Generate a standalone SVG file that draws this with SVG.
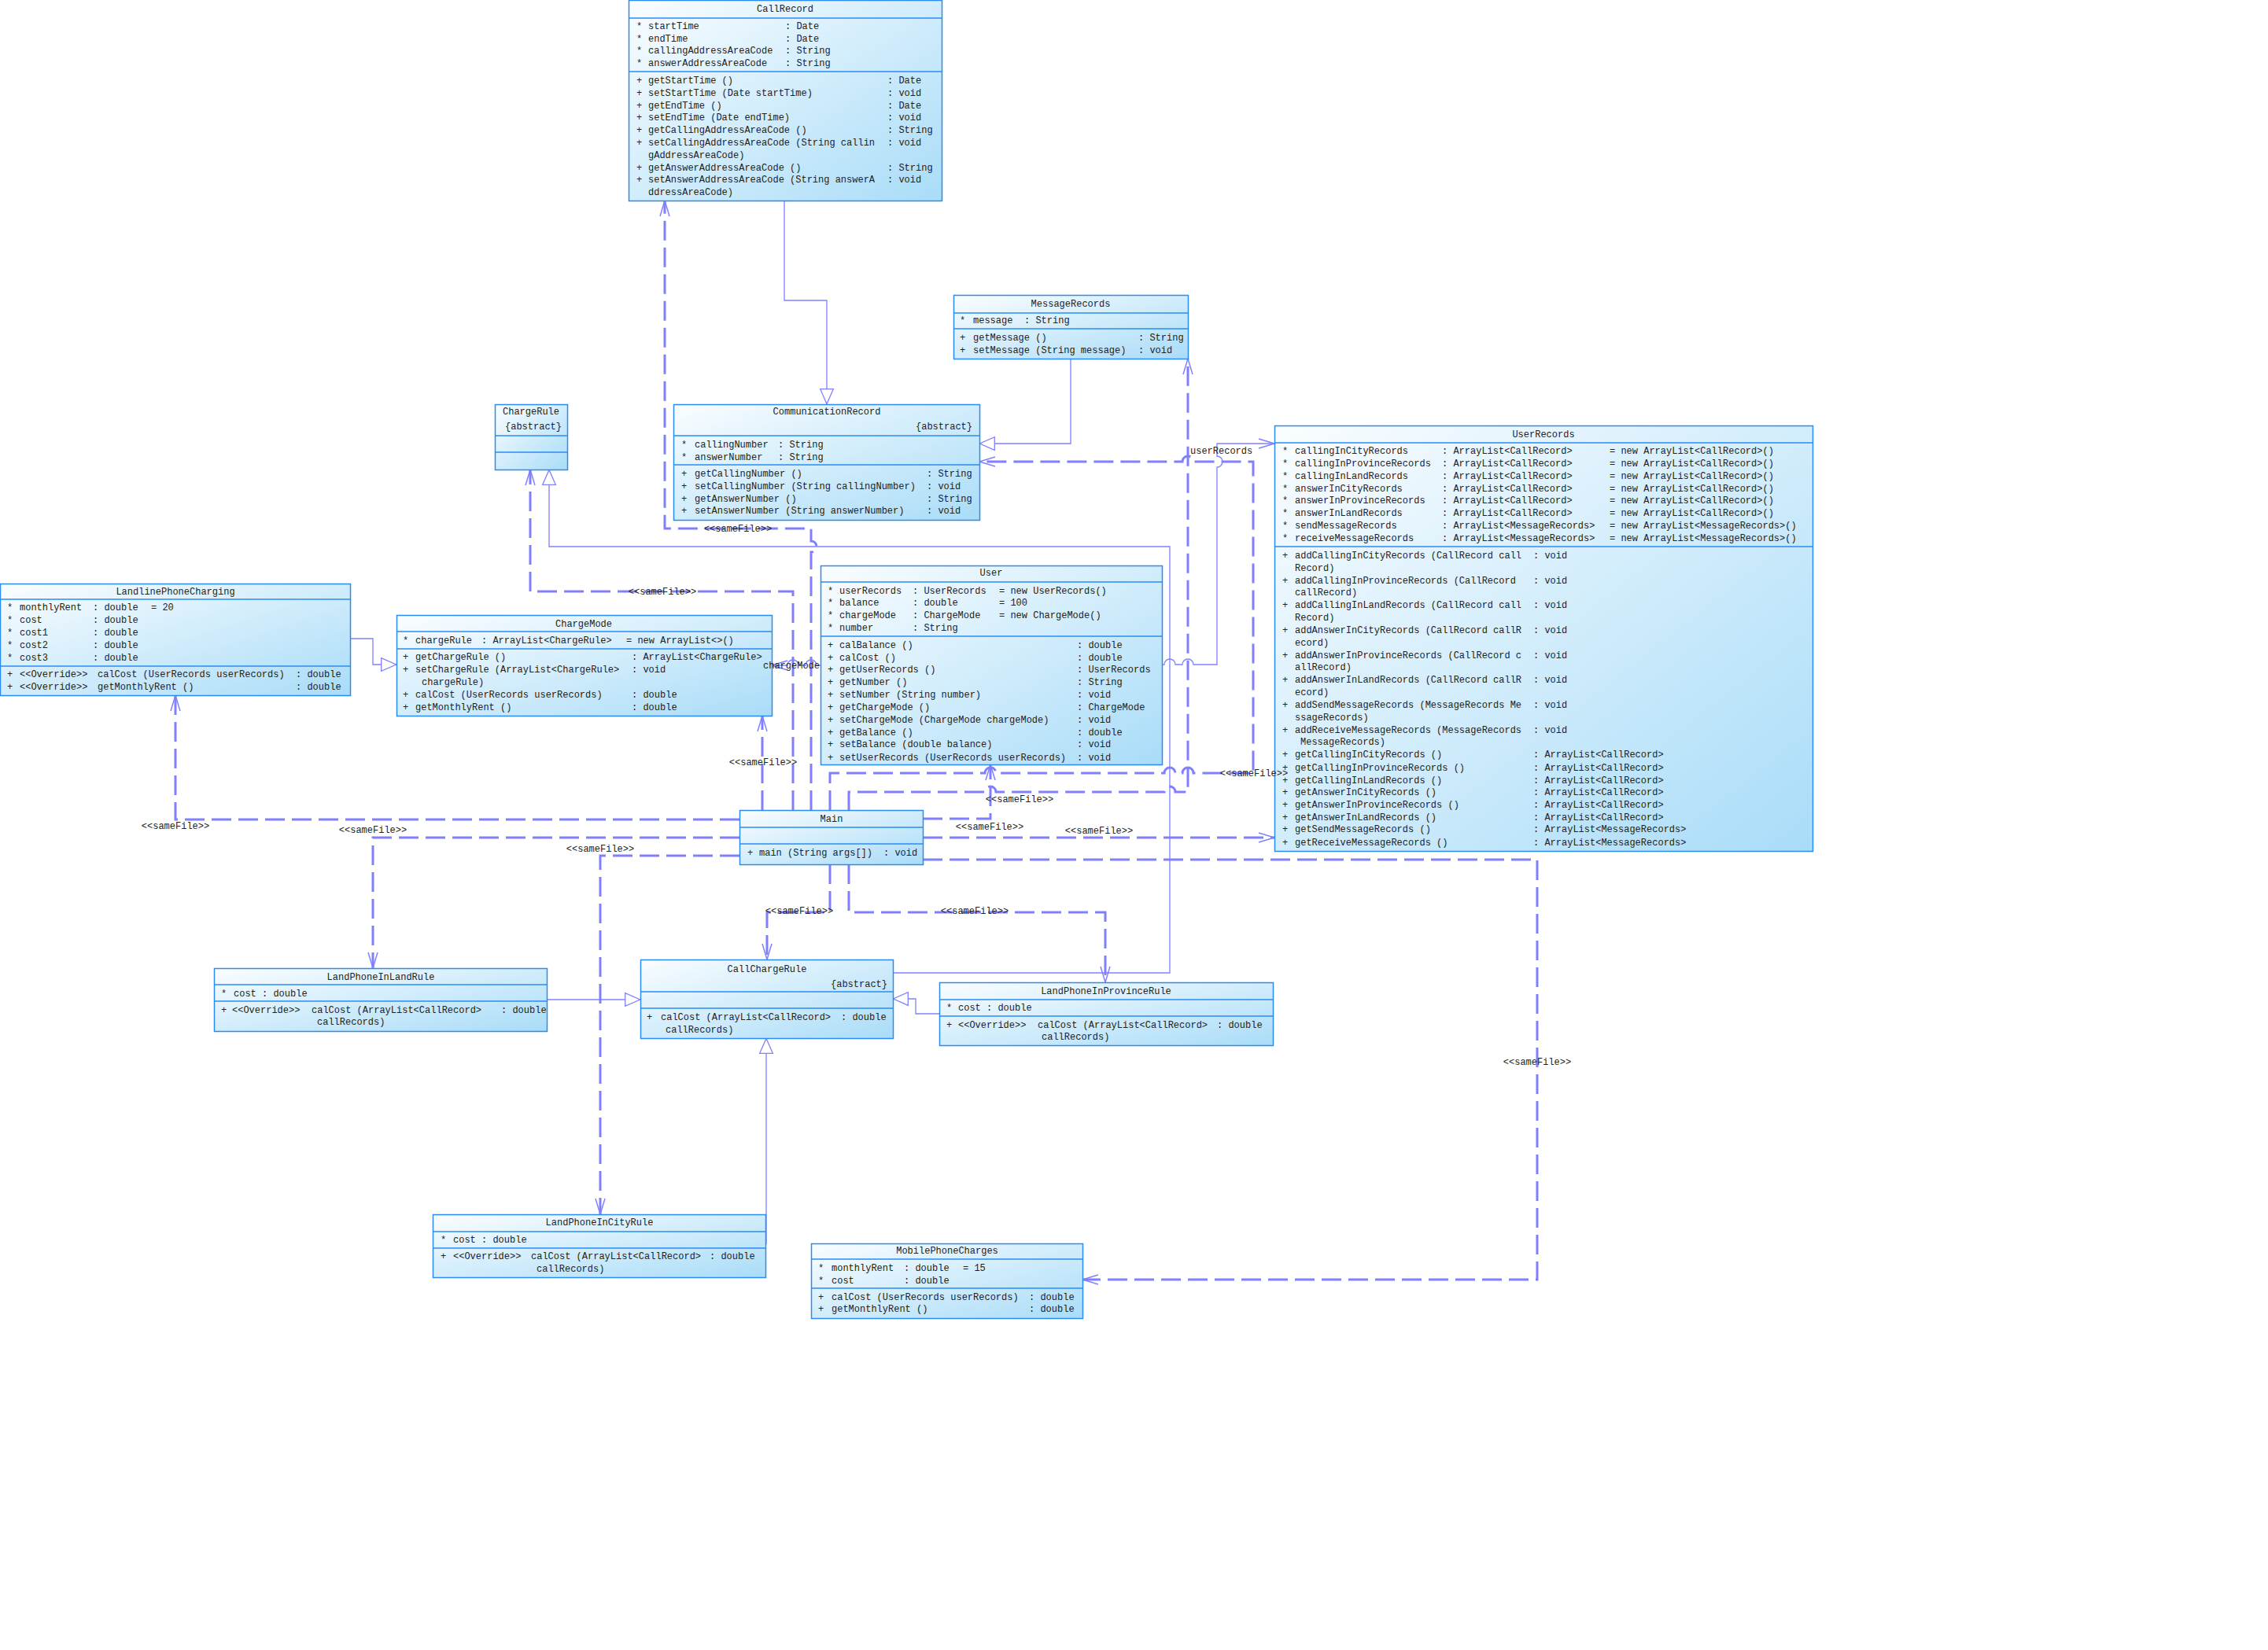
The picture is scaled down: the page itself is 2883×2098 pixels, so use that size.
<svg xmlns="http://www.w3.org/2000/svg" width="2883" height="2098" viewBox="0 0 2883 2098">
<defs>
<linearGradient id="bg" x1="0" y1="0" x2="1" y2="1">
<stop offset="0" stop-color="#fafdff"/>
<stop offset="1" stop-color="#a9dcf8"/>
</linearGradient>
<marker id="open" markerUnits="userSpaceOnUse" viewBox="0 0 21 14" refX="20" refY="7" markerWidth="21" markerHeight="14" orient="auto" overflow="visible">
<path d="M0,1 L20,7 L0,13" fill="none" stroke="#8080ff" stroke-width="1.5"/>
</marker>
<marker id="tri" markerUnits="userSpaceOnUse" viewBox="0 0 20 18" refX="20" refY="9" markerWidth="20" markerHeight="18" orient="auto" overflow="visible">
<path d="M0.7,0.7 L19.6,9 L0.7,17.3 Z" fill="#ffffff" stroke="#8080ff" stroke-width="1.3"/>
</marker>
</defs>
<style>
.box rect{fill:url(#bg);stroke:#2a8cf0;stroke-width:1.5}
.box line{stroke:#2a8cf0;stroke-width:1.5}
text{font-family:"Liberation Mono","DejaVu Sans Mono",monospace;font-size:12px;fill:#222}
.c{text-anchor:middle}
.e{text-anchor:end}
.dep{fill:none;stroke:#8080ff;stroke-width:3;stroke-dasharray:25 9;marker-end:url(#open)}
.gen{fill:none;stroke:#8080ff;stroke-width:1.3;marker-end:url(#tri)}
.asc{fill:none;stroke:#8080ff;stroke-width:1.3;marker-end:url(#open)}
</style>
<rect x="0" y="0" width="2883" height="2098" fill="#ffffff"/>

<g id="connectors">
<path class="gen" d="M997 255 V382 H1051 V514"/>
<path class="gen" d="M1361 456 V564 H1245"/>
<path class="gen" d="M1135 1237 H1487 V695 H698 V597"/>
<path class="gen" d="M695 1271 H814"/>
<path class="gen" d="M1194 1289 H1164 V1270 H1135"/>
<path class="gen" d="M974 1582 V1320"/>
<path class="gen" d="M445 812 H474 V845 H504"/>
<path class="asc" d="M1477 845 H1480 A7 7 0 0 1 1494 845 H1503 A7 7 0 0 1 1517 845 H1547 V594 A7 7 0 0 0 1547 580 V564 H1620"/>
<path class="asc" d="M1043 846 H1038 A7 7 0 0 0 1024 846 H1015 A7 7 0 0 0 1001 846 H981"/>
<path class="dep" d="M1031 1030 V702 A7 7 0 0 0 1031 688 V672 H845 V255"/>
<path class="dep" d="M1008 1030 V752 H674 V597"/>
<path class="dep" d="M969 1030 V910"/>
<path class="dep" d="M1055 1030 V983 H1252 A7 7 0 0 1 1266 983 H1480 A7 7 0 0 1 1494 983 H1503 A7 7 0 0 1 1517 983 H1593 V587 H1517 A7 7 0 0 0 1503 587 H1245"/>
<path class="dep" d="M1079 1030 V1007 H1252 A7 7 0 0 1 1266 1007 H1480 A7 7 0 0 1 1494 1007 H1510 V456"/>
<path class="dep" d="M1173 1041 H1259 V972"/>
<path class="dep" d="M1173 1065 H1620"/>
<path class="dep" d="M1173 1093 H1954 V1627 H1376"/>
<path class="dep" d="M940 1042 H223 V884"/>
<path class="dep" d="M940 1065 H474 V1231"/>
<path class="dep" d="M940 1088 H763 V1544"/>
<path class="dep" d="M1055 1099 V1160 H975 V1220"/>
<path class="dep" d="M1079 1099 V1160 H1405 V1249"/>
</g>

<g id="CallRecord" class="box">
<rect x="799.5" y="0.5" width="398" height="255"/>
<line x1="799.5" y1="23" x2="1197.5" y2="23"/>
<line x1="799.5" y1="91" x2="1197.5" y2="91"/>
<text class="c" x="998" y="15">CallRecord</text>
<text x="809" y="37">*</text><text x="824" y="37">startTime</text><text x="998" y="37">: Date</text>
<text x="809" y="52.5">*</text><text x="824" y="52.5">endTime</text><text x="998" y="52.5">: Date</text>
<text x="809" y="68">*</text><text x="824" y="68">callingAddressAreaCode</text><text x="998" y="68">: String</text>
<text x="809" y="83.5">*</text><text x="824" y="83.5">answerAddressAreaCode</text><text x="998" y="83.5">: String</text>
<text x="809" y="106">+</text><text x="824" y="106">getStartTime ()</text><text x="1128" y="106">: Date</text>
<text x="809" y="121.8">+</text><text x="824" y="121.8">setStartTime (Date startTime)</text><text x="1128" y="121.8">: void</text>
<text x="809" y="137.6">+</text><text x="824" y="137.6">getEndTime ()</text><text x="1128" y="137.6">: Date</text>
<text x="809" y="153.4">+</text><text x="824" y="153.4">setEndTime (Date endTime)</text><text x="1128" y="153.4">: void</text>
<text x="809" y="169.2">+</text><text x="824" y="169.2">getCallingAddressAreaCode ()</text><text x="1128" y="169.2">: String</text>
<text x="809" y="185">+</text><text x="824" y="185">setCallingAddressAreaCode (String callin</text><text x="1128" y="185">: void</text>
<text x="824" y="200.8">gAddressAreaCode)</text>
<text x="809" y="216.6">+</text><text x="824" y="216.6">getAnswerAddressAreaCode ()</text><text x="1128" y="216.6">: String</text>
<text x="809" y="232.4">+</text><text x="824" y="232.4">setAnswerAddressAreaCode (String answerA</text><text x="1128" y="232.4">: void</text>
<text x="824" y="248.2">ddressAreaCode)</text>
</g>

<g id="MessageRecords" class="box">
<rect x="1212.5" y="375.5" width="298" height="81"/>
<line x1="1212.5" y1="398" x2="1510.5" y2="398"/>
<line x1="1212.5" y1="418" x2="1510.5" y2="418"/>
<text class="c" x="1361" y="390">MessageRecords</text>
<text x="1220" y="411">*</text><text x="1237" y="411">message</text><text x="1302" y="411">: String</text>
<text x="1220" y="433">+</text><text x="1237" y="433">getMessage ()</text><text x="1447" y="433">: String</text>
<text x="1220" y="448.5">+</text><text x="1237" y="448.5">setMessage (String message)</text><text x="1447" y="448.5">: void</text>
</g>

<g id="ChargeRule" class="box">
<rect x="629.5" y="514.5" width="92" height="83"/>
<line x1="629.5" y1="554" x2="721.5" y2="554"/>
<line x1="629.5" y1="575" x2="721.5" y2="575"/>
<text class="c" x="675" y="527">ChargeRule</text>
<text class="c" x="678" y="546">{abstract}</text>
</g>

<g id="CommunicationRecord" class="box">
<rect x="856.5" y="514.5" width="389" height="147"/>
<line x1="856.5" y1="554" x2="1245.5" y2="554"/>
<line x1="856.5" y1="591" x2="1245.5" y2="591"/>
<text class="c" x="1051" y="527">CommunicationRecord</text>
<text class="e" x="1236" y="546">{abstract}</text>
<text x="866" y="569">*</text><text x="883" y="569">callingNumber</text><text x="989" y="569">: String</text>
<text x="866" y="585">*</text><text x="883" y="585">answerNumber</text><text x="989" y="585">: String</text>
<text x="866" y="606">+</text><text x="883" y="606">getCallingNumber ()</text><text x="1178" y="606">: String</text>
<text x="866" y="622">+</text><text x="883" y="622">setCallingNumber (String callingNumber)</text><text x="1178" y="622">: void</text>
<text x="866" y="637.5">+</text><text x="883" y="637.5">getAnswerNumber ()</text><text x="1178" y="637.5">: String</text>
<text x="866" y="653">+</text><text x="883" y="653">setAnswerNumber (String answerNumber)</text><text x="1178" y="653">: void</text>
</g>

<g id="UserRecords" class="box">
<rect x="1620.5" y="541.5" width="684" height="541"/>
<line x1="1620.5" y1="563" x2="2304.5" y2="563"/>
<line x1="1620.5" y1="695" x2="2304.5" y2="695"/>
<text class="c" x="1962" y="556">UserRecords</text>
<text x="1630" y="577">*</text><text x="1646" y="577">callingInCityRecords</text><text x="1833" y="577">: ArrayList&lt;CallRecord&gt;</text><text x="2046" y="577">= new ArrayList&lt;CallRecord&gt;()</text>
<text x="1630" y="593">*</text><text x="1646" y="593">callingInProvinceRecords</text><text x="1833" y="593">: ArrayList&lt;CallRecord&gt;</text><text x="2046" y="593">= new ArrayList&lt;CallRecord&gt;()</text>
<text x="1630" y="609">*</text><text x="1646" y="609">callingInLandRecords</text><text x="1833" y="609">: ArrayList&lt;CallRecord&gt;</text><text x="2046" y="609">= new ArrayList&lt;CallRecord&gt;()</text>
<text x="1630" y="624.5">*</text><text x="1646" y="624.5">answerInCityRecords</text><text x="1833" y="624.5">: ArrayList&lt;CallRecord&gt;</text><text x="2046" y="624.5">= new ArrayList&lt;CallRecord&gt;()</text>
<text x="1630" y="640">*</text><text x="1646" y="640">answerInProvinceRecords</text><text x="1833" y="640">: ArrayList&lt;CallRecord&gt;</text><text x="2046" y="640">= new ArrayList&lt;CallRecord&gt;()</text>
<text x="1630" y="656">*</text><text x="1646" y="656">answerInLandRecords</text><text x="1833" y="656">: ArrayList&lt;CallRecord&gt;</text><text x="2046" y="656">= new ArrayList&lt;CallRecord&gt;()</text>
<text x="1630" y="672">*</text><text x="1646" y="672">sendMessageRecords</text><text x="1833" y="672">: ArrayList&lt;MessageRecords&gt;</text><text x="2046" y="672">= new ArrayList&lt;MessageRecords&gt;()</text>
<text x="1630" y="688">*</text><text x="1646" y="688">receiveMessageRecords</text><text x="1833" y="688">: ArrayList&lt;MessageRecords&gt;</text><text x="2046" y="688">= new ArrayList&lt;MessageRecords&gt;()</text>
<text x="1630" y="710">+</text><text x="1646" y="710">addCallingInCityRecords (CallRecord call</text><text x="1949" y="710">: void</text>
<text x="1646" y="726">Record)</text>
<text x="1630" y="742">+</text><text x="1646" y="742">addCallingInProvinceRecords (CallRecord</text><text x="1949" y="742">: void</text>
<text x="1646" y="757">callRecord)</text>
<text x="1630" y="773">+</text><text x="1646" y="773">addCallingInLandRecords (CallRecord call</text><text x="1949" y="773">: void</text>
<text x="1646" y="789">Record)</text>
<text x="1630" y="805">+</text><text x="1646" y="805">addAnswerInCityRecords (CallRecord callR</text><text x="1949" y="805">: void</text>
<text x="1646" y="821">ecord)</text>
<text x="1630" y="837">+</text><text x="1646" y="837">addAnswerInProvinceRecords (CallRecord c</text><text x="1949" y="837">: void</text>
<text x="1646" y="852">allRecord)</text>
<text x="1630" y="868">+</text><text x="1646" y="868">addAnswerInLandRecords (CallRecord callR</text><text x="1949" y="868">: void</text>
<text x="1646" y="884">ecord)</text>
<text x="1630" y="900">+</text><text x="1646" y="900">addSendMessageRecords (MessageRecords Me</text><text x="1949" y="900">: void</text>
<text x="1646" y="916">ssageRecords)</text>
<text x="1630" y="932">+</text><text x="1646" y="932">addReceiveMessageRecords (MessageRecords</text><text x="1949" y="932">: void</text>
<text x="1653" y="947">MessageRecords)</text>
<text x="1630" y="963">+</text><text x="1646" y="963">getCallingInCityRecords ()</text><text x="1949" y="963">: ArrayList&lt;CallRecord&gt;</text>
<text x="1630" y="980">+</text><text x="1646" y="980">getCallingInProvinceRecords ()</text><text x="1949" y="980">: ArrayList&lt;CallRecord&gt;</text>
<text x="1630" y="996">+</text><text x="1646" y="996">getCallingInLandRecords ()</text><text x="1949" y="996">: ArrayList&lt;CallRecord&gt;</text>
<text x="1630" y="1011">+</text><text x="1646" y="1011">getAnswerInCityRecords ()</text><text x="1949" y="1011">: ArrayList&lt;CallRecord&gt;</text>
<text x="1630" y="1027">+</text><text x="1646" y="1027">getAnswerInProvinceRecords ()</text><text x="1949" y="1027">: ArrayList&lt;CallRecord&gt;</text>
<text x="1630" y="1043">+</text><text x="1646" y="1043">getAnswerInLandRecords ()</text><text x="1949" y="1043">: ArrayList&lt;CallRecord&gt;</text>
<text x="1630" y="1058">+</text><text x="1646" y="1058">getSendMessageRecords ()</text><text x="1949" y="1058">: ArrayList&lt;MessageRecords&gt;</text>
<text x="1630" y="1075">+</text><text x="1646" y="1075">getReceiveMessageRecords ()</text><text x="1949" y="1075">: ArrayList&lt;MessageRecords&gt;</text>
</g>

<g id="LandlinePhoneCharging" class="box">
<rect x="0.5" y="742.5" width="445" height="142"/>
<line x1="0.5" y1="762" x2="445.5" y2="762"/>
<line x1="0.5" y1="847" x2="445.5" y2="847"/>
<text class="c" x="223" y="756">LandlinePhoneCharging</text>
<text x="9" y="776">*</text><text x="25" y="776">monthlyRent</text><text x="118" y="776">: double</text><text x="192" y="776">= 20</text>
<text x="9" y="792">*</text><text x="25" y="792">cost</text><text x="118" y="792">: double</text>
<text x="9" y="808">*</text><text x="25" y="808">cost1</text><text x="118" y="808">: double</text>
<text x="9" y="824">*</text><text x="25" y="824">cost2</text><text x="118" y="824">: double</text>
<text x="9" y="840">*</text><text x="25" y="840">cost3</text><text x="118" y="840">: double</text>
<text x="9" y="861">+</text><text x="25" y="861">&lt;&lt;Override&gt;&gt;</text><text x="124" y="861">calCost (UserRecords userRecords)</text><text x="376" y="861">: double</text>
<text x="9" y="877">+</text><text x="25" y="877">&lt;&lt;Override&gt;&gt;</text><text x="124" y="877">getMonthlyRent ()</text><text x="376" y="877">: double</text>
</g>

<g id="ChargeMode" class="box">
<rect x="504.5" y="782.5" width="477" height="128"/>
<line x1="504.5" y1="803" x2="981.5" y2="803"/>
<line x1="504.5" y1="825" x2="981.5" y2="825"/>
<text class="c" x="742" y="797">ChargeMode</text>
<text x="512" y="818">*</text><text x="528" y="818">chargeRule</text><text x="612" y="818">: ArrayList&lt;ChargeRule&gt;</text><text x="796" y="818">= new ArrayList&lt;&gt;()</text>
<text x="512" y="839">+</text><text x="528" y="839">getChargeRule ()</text><text x="803" y="839">: ArrayList&lt;ChargeRule&gt;</text>
<text x="512" y="855">+</text><text x="528" y="855">setChargeRule (ArrayList&lt;ChargeRule&gt;</text><text x="803" y="855">: void</text>
<text x="536" y="871">chargeRule)</text>
<text x="512" y="887">+</text><text x="528" y="887">calCost (UserRecords userRecords)</text><text x="803" y="887">: double</text>
<text x="512" y="902.5">+</text><text x="528" y="902.5">getMonthlyRent ()</text><text x="803" y="902.5">: double</text>
</g>

<g id="User" class="box">
<rect x="1043.5" y="719.5" width="434" height="253"/>
<line x1="1043.5" y1="740" x2="1477.5" y2="740"/>
<line x1="1043.5" y1="809" x2="1477.5" y2="809"/>
<text class="c" x="1260" y="732">User</text>
<text x="1052" y="755">*</text><text x="1067" y="755">userRecords</text><text x="1160" y="755">: UserRecords</text><text x="1270" y="755">= new UserRecords()</text>
<text x="1052" y="770">*</text><text x="1067" y="770">balance</text><text x="1160" y="770">: double</text><text x="1270" y="770">= 100</text>
<text x="1052" y="786">*</text><text x="1067" y="786">chargeMode</text><text x="1160" y="786">: ChargeMode</text><text x="1270" y="786">= new ChargeMode()</text>
<text x="1052" y="802">*</text><text x="1067" y="802">number</text><text x="1160" y="802">: String</text>
<text x="1052" y="824">+</text><text x="1067" y="824">calBalance ()</text><text x="1369" y="824">: double</text>
<text x="1052" y="840">+</text><text x="1067" y="840">calCost ()</text><text x="1369" y="840">: double</text>
<text x="1052" y="855">+</text><text x="1067" y="855">getUserRecords ()</text><text x="1369" y="855">: UserRecords</text>
<text x="1052" y="871">+</text><text x="1067" y="871">getNumber ()</text><text x="1369" y="871">: String</text>
<text x="1052" y="887">+</text><text x="1067" y="887">setNumber (String number)</text><text x="1369" y="887">: void</text>
<text x="1052" y="903">+</text><text x="1067" y="903">getChargeMode ()</text><text x="1369" y="903">: ChargeMode</text>
<text x="1052" y="919">+</text><text x="1067" y="919">setChargeMode (ChargeMode chargeMode)</text><text x="1369" y="919">: void</text>
<text x="1052" y="935">+</text><text x="1067" y="935">getBalance ()</text><text x="1369" y="935">: double</text>
<text x="1052" y="950">+</text><text x="1067" y="950">setBalance (double balance)</text><text x="1369" y="950">: void</text>
<text x="1052" y="967">+</text><text x="1067" y="967">setUserRecords (UserRecords userRecords)</text><text x="1369" y="967">: void</text>
</g>

<g id="Main" class="box">
<rect x="940.5" y="1030.5" width="233" height="69"/>
<line x1="940.5" y1="1052" x2="1173.5" y2="1052"/>
<line x1="940.5" y1="1073" x2="1173.5" y2="1073"/>
<text class="c" x="1057" y="1045">Main</text>
<text x="950" y="1088">+</text><text x="965" y="1088">main (String args[])</text><text x="1123" y="1088">: void</text>
</g>

<g id="LandPhoneInLandRule" class="box">
<rect x="272.5" y="1231.5" width="423" height="80"/>
<line x1="272.5" y1="1252" x2="695.5" y2="1252"/>
<line x1="272.5" y1="1273" x2="695.5" y2="1273"/>
<text class="c" x="484" y="1246">LandPhoneInLandRule</text>
<text x="281" y="1267">*</text><text x="297" y="1267">cost : double</text>
<text x="281" y="1288">+</text><text x="295" y="1288">&lt;&lt;Override&gt;&gt;</text><text x="396" y="1288">calCost (ArrayList&lt;CallRecord&gt;</text><text x="637" y="1288">: double</text>
<text x="403" y="1303">callRecords)</text>
</g>

<g id="CallChargeRule" class="box">
<rect x="814.5" y="1220.5" width="321" height="100"/>
<line x1="814.5" y1="1261" x2="1135.5" y2="1261"/>
<line x1="814.5" y1="1282" x2="1135.5" y2="1282"/>
<text class="c" x="975" y="1236">CallChargeRule</text>
<text class="e" x="1128" y="1255">{abstract}</text>
<text x="822" y="1297">+</text><text x="840" y="1297">calCost (ArrayList&lt;CallRecord&gt;</text><text x="1069" y="1297">: double</text>
<text x="846" y="1313">callRecords)</text>
</g>

<g id="LandPhoneInProvinceRule" class="box">
<rect x="1194.5" y="1249.5" width="424" height="80"/>
<line x1="1194.5" y1="1271" x2="1618.5" y2="1271"/>
<line x1="1194.5" y1="1292" x2="1618.5" y2="1292"/>
<text class="c" x="1406" y="1264">LandPhoneInProvinceRule</text>
<text x="1203" y="1285">*</text><text x="1218" y="1285">cost : double</text>
<text x="1203" y="1307">+</text><text x="1218" y="1307">&lt;&lt;Override&gt;&gt;</text><text x="1319" y="1307">calCost (ArrayList&lt;CallRecord&gt;</text><text x="1547" y="1307">: double</text>
<text x="1324" y="1322">callRecords)</text>
</g>

<g id="LandPhoneInCityRule" class="box">
<rect x="550.5" y="1544.5" width="423" height="80"/>
<line x1="550.5" y1="1566" x2="973.5" y2="1566"/>
<line x1="550.5" y1="1587" x2="973.5" y2="1587"/>
<text class="c" x="762" y="1558">LandPhoneInCityRule</text>
<text x="560" y="1580">*</text><text x="576" y="1580">cost : double</text>
<text x="560" y="1601">+</text><text x="576" y="1601">&lt;&lt;Override&gt;&gt;</text><text x="675" y="1601">calCost (ArrayList&lt;CallRecord&gt;</text><text x="902" y="1601">: double</text>
<text x="682" y="1617">callRecords)</text>
</g>

<g id="MobilePhoneCharges" class="box">
<rect x="1031.5" y="1581.5" width="345" height="95"/>
<line x1="1031.5" y1="1601" x2="1376.5" y2="1601"/>
<line x1="1031.5" y1="1638" x2="1376.5" y2="1638"/>
<text class="c" x="1204" y="1594">MobilePhoneCharges</text>
<text x="1040" y="1616">*</text><text x="1057" y="1616">monthlyRent</text><text x="1149" y="1616">: double</text><text x="1224" y="1616">= 15</text>
<text x="1040" y="1632">*</text><text x="1057" y="1632">cost</text><text x="1149" y="1632">: double</text>
<text x="1040" y="1653">+</text><text x="1057" y="1653">calCost (UserRecords userRecords)</text><text x="1308" y="1653">: double</text>
<text x="1040" y="1668">+</text><text x="1057" y="1668">getMonthlyRent ()</text><text x="1308" y="1668">: double</text>
</g>

<g id="connector-labels">
<text class="c" x="938" y="676">&lt;&lt;sameFile&gt;&gt;</text>
<text class="c" x="842" y="756">&lt;&lt;sameFile&gt;&gt;</text>
<text class="c" x="970" y="973">&lt;&lt;sameFile&gt;&gt;</text>
<text class="c" x="1296" y="1020">&lt;&lt;sameFile&gt;&gt;</text>
<text class="c" x="1258" y="1055">&lt;&lt;sameFile&gt;&gt;</text>
<text class="c" x="1397" y="1060">&lt;&lt;sameFile&gt;&gt;</text>
<text class="c" x="1594" y="987">&lt;&lt;sameFile&gt;&gt;</text>
<text class="c" x="223" y="1054">&lt;&lt;sameFile&gt;&gt;</text>
<text class="c" x="474" y="1059">&lt;&lt;sameFile&gt;&gt;</text>
<text class="c" x="763" y="1083">&lt;&lt;sameFile&gt;&gt;</text>
<text class="c" x="1016" y="1162">&lt;&lt;sameFile&gt;&gt;</text>
<text class="c" x="1239" y="1162">&lt;&lt;sameFile&gt;&gt;</text>
<text class="c" x="1954" y="1354">&lt;&lt;sameFile&gt;&gt;</text>
<text x="1513" y="577">userRecords</text>
<text x="970" y="850">chargeMode</text>
</g>
</svg>
